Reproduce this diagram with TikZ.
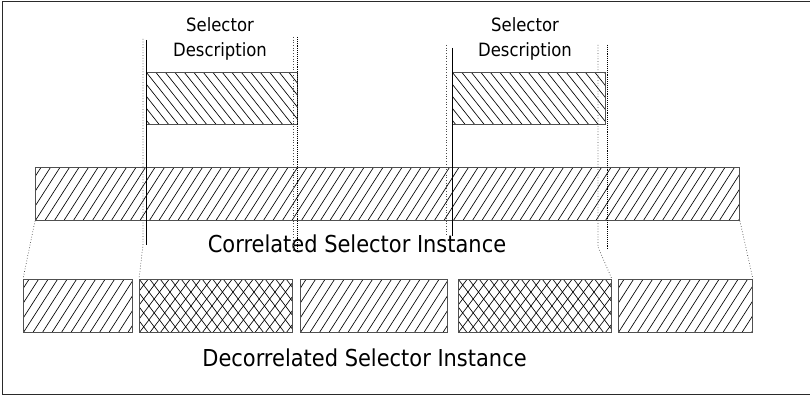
\documentclass[tikz,border=0pt]{standalone}
\usepackage{fontspec}
\setmainfont{DejaVu Sans Condensed}
\usetikzlibrary{positioning, calc}
\definecolor{edgegray}{HTML}{505050}
\definecolor{guidegray}{HTML}{4A4A4A}
\definecolor{framegray}{HTML}{2A2A2A}

\begin{document}
\begin{tikzpicture}[x=1pt, y=-1pt,
        hatch/.style={black, line width=0.65pt},
        box/.style={rectangle, draw=edgegray, line width=0.9pt, inner sep=0pt, anchor=north west},
        risehatch/.style={path picture={
            \foreach \k in {-6,...,78}
              \draw[hatch] ([xshift=\k*9.5pt]path picture bounding box.south west) -- ++(34,-53);}},
        fallhatch/.style={path picture={
            \foreach \k in {-6,...,78}
              \draw[hatch] ([xshift=\k*9.5pt]path picture bounding box.north west) -- ++(42,53);}},
        selbox/.style={box, fallhatch},
        stripebox/.style={box, risehatch},
        crossbox/.style={box, path picture={
            \foreach \k in {-6,...,20}{
              \draw[hatch] ([xshift=\k*10.5pt]path picture bounding box.south west) -- ++(40,-53);
              \draw[hatch] ([xshift=\k*10.5pt]path picture bounding box.north west) -- ++(40,53);}}},
        seltext/.style={align=center, inner sep=0pt, anchor=north,
                    font=\fontsize{18.3}{25}\selectfont},
        caption/.style={inner sep=0pt, anchor=base, font=\fontsize{23.3}{28}\selectfont},
        guide/.style={guidegray, dotted, line width=0.7pt},
        edge/.style={black, densely dotted, line width=0.9pt},
        rail/.style={black, line width=0.8pt}
      ]
        \useasboundingbox (0,0) rectangle (810,396);
        \draw[framegray, line width=1.4pt] (815,1.5) -- (2.5,1.5) -- (2.5,394.5) -- (815,394.5);

        % selector descriptions
        \node[selbox, minimum width=151pt, minimum height=52pt] (sel1) at (146,72) {};
        \node[selbox, minimum width=153pt, minimum height=52pt] (sel2) at (452,72) {};
        \node[seltext] (sel1lbl) at (220,17.5) {Selector\\Description};
        \node[seltext] (sel2lbl) at (525,17.5) {Selector\\Description};

        % correlated instance
        \node[stripebox, minimum width=704pt, minimum height=53pt] (corr) at (35,167) {};
        \node[caption] (corrlbl) at (357,252) {Correlated Selector Instance};

        % decorrelated instance
        \node[stripebox, minimum width=109pt, minimum height=53pt] (dec1) at (23,279) {};
        \node[crossbox, minimum width=153pt, minimum height=53pt] (dec2) at (139,279) {};
        \node[stripebox, minimum width=147pt, minimum height=53pt] (dec3) at (300,279) {};
        \node[crossbox, minimum width=153pt, minimum height=53pt] (dec4) at (458,279) {};
        \node[stripebox, minimum width=134pt, minimum height=53pt] (dec5) at (618,279) {};
        \node[caption] (declbl) at (364.5,366) {Decorrelated Selector Instance};

        % guide lines
        \coordinate (g1top) at (143,39);  \coordinate (g1bot) at (143,245);
        \coordinate (g2top) at (146,40);  \coordinate (g2bot) at (146,245);
        \coordinate (g3top) at (293,37);  \coordinate (g3bot) at (293,251);
        \coordinate (g4top) at (297,37);  \coordinate (g4bot) at (297,251);
        \coordinate (g5top) at (446,45);  \coordinate (g5bot) at (446,236);
        \coordinate (g6top) at (452,48);  \coordinate (g6bot) at (452,236);
        \coordinate (g7top) at (598,45);  \coordinate (g7bot) at (598,247);
        \coordinate (g8top) at (607,45);  \coordinate (g8bot) at (607,250);

        \draw[guide] (g1top) -- (g1bot) -- (dec2.north west);
        \draw[rail] (g2top) -- (g2bot);
        \draw[guide] (g3top) -- (g3bot);
        \draw[edge] (g4top) -- (g4bot);
        \draw[guide] (g5top) -- (g5bot);
        \draw[rail] (g6top) -- (g6bot);
        \draw[guide] (g7top) -- (g7bot) -- (dec4.north east);
        \draw[edge] (g8top) -- (g8bot);
        \draw[guide] (corr.south west) -- (dec1.north west);
        \draw[guide] (corr.south east) -- (dec5.north east);
      \end{tikzpicture}
\end{document}
